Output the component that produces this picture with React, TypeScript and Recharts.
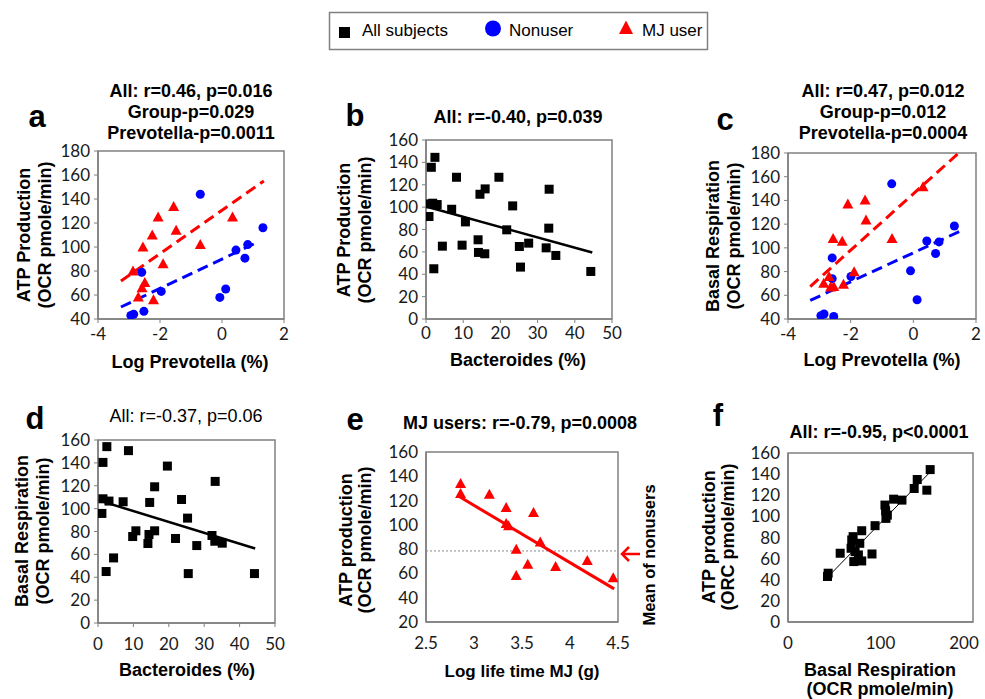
import React from 'react';
import { ScatterChart, Scatter, XAxis, YAxis, ReferenceLine, ReferenceArea } from 'recharts';

// panel a: ATP production vs log Prevotella, by group
const aNonuserX = [-0.7, 1.32, 0.45, 0.83, 0.74, 0.12, -0.07, -2.59, -1.96, -2.52, -2.85, -2.94];
const aNonuserY = [144, 116, 97.4, 102, 90.7, 65, 58, 79, 63, 46.4, 44, 43];
const aUserX = [-1.56, -2.06, 0.34, -1.48, -2.25, -2.55, -0.7, -1.9, -2.87, -2.49, -2.58, -2.7, -2.21];
const aUserY = [133.7, 125, 125, 114, 110, 100, 102, 86, 80, 70.5, 66, 58.3, 56];
const aUserFit = [[-3.26, 71.6], [1.35, 155]];
const aNonuserFit = [[-3.26, 50], [1.17, 104.3]];

// panel b: ATP production vs Bacteroides
const bX = [2.4, 1.43, 8.2, 19.6, 15.9, 33.1, 14.5, 1.07, 1.8, 3.0, 6.9, 23.3, 0.8, 10.6, 21.7, 33.0, 4.4, 9.7, 14.0, 14.1, 15.8, 25.1, 27.6, 32.3, 34.9, 2.1, 25.4, 44.3];
const bY = [144.5, 135.6, 126.7, 126.7, 116.3, 116, 111.5, 102.9, 103.5, 102.3, 98.1, 101.1, 91.6, 86.8, 79.7, 81.2, 65.1, 66, 70.8, 59.5, 58.3, 64.8, 67.8, 63.6, 56.8, 44.9, 46.4, 42.5];
const bFit = [[0, 100.5], [44.7, 59.5]];

// panel c: basal respiration vs log Prevotella, by group
const cNonuserX = [-0.69, 1.31, 0.43, 0.82, 0.71, -0.09, 0.12, -2.59, -2.59, -1.99, -2.95, -2.85, -2.54];
const cNonuserY = [154, 118.4, 105.8, 105, 95.2, 80.6, 56.2, 91.5, 74, 75.8, 42.8, 44.2, 42.2];
const cUserX = [0.31, -1.54, -2.09, -1.51, -2.56, -2.27, -0.68, -1.89, -2.69, -2.86, -2.64, -2.23, -2.54];
const cUserY = [151.5, 140.3, 137, 123.4, 107.8, 105.5, 107.8, 79.8, 75.8, 70.2, 66.9, 69.4, 67.4];
const cUserFit = [[-3.29, 67.4], [1.45, 180]];
const cNonuserFit = [[-3.29, 55.7], [1.53, 114.5]];

// panel d: basal respiration vs Bacteroides
const dX = [2.5, 8.6, 1.4, 19.6, 33.1, 16.0, 1.4, 3.1, 7.1, 23.6, 14.6, 1.1, 25.3, 10.7, 16.0, 9.8, 14.4, 14.1, 21.9, 32.2, 33.0, 35.1, 27.9, 4.4, 2.3, 25.5, 44.2];
const dY = [154.2, 150.7, 140.4, 137.2, 123.8, 119.1, 108.6, 106.6, 106, 108, 105.4, 95.8, 91.7, 80.6, 80.6, 75.6, 77.4, 69.5, 73.9, 76.5, 71.5, 69.8, 67.7, 56.9, 45, 43.2, 43.2];
const dFit = [[0, 107.4], [44.4, 65.1]];

// panel e: MJ users, ATP production vs log lifetime MJ
const eX = [2.86, 2.86, 3.16, 3.335, 3.62, 3.335, 3.36, 3.69, 3.44, 3.56, 3.85, 4.18, 3.44, 4.45];
const eY = [134, 125.8, 125.3, 114.3, 110.2, 101.2, 99.3, 85.9, 79.9, 67.6, 65.7, 70.6, 58.3, 56.4];
const eFit = [[2.85, 123.1], [4.46, 47.3]];
const eNonuserMean = 78.5;

// panel f: ATP production vs basal respiration
const fX = [153.7, 139.7, 136.4, 150.1, 114.2, 123.2, 104.8, 105.5, 107.4, 105.9, 94.1, 79.7, 70.4, 77.6, 68.2, 72.5, 56.4, 90.8, 76.1, 71.1, 79.7, 43.4, 42.7, 68.9];
const fY = [144.3, 134.9, 126.4, 124.8, 116.3, 115.4, 110.7, 105.3, 101.2, 98.1, 91.2, 86.4, 80.8, 74.5, 69.8, 66.6, 65.1, 64.4, 63.5, 57.2, 57.8, 46.2, 43.1, 77.7];
const fFit = [[43.4, 43], [153.7, 142]];

const BLUE = '#0000ff';
const RED = '#ff0000';
const AXIS = '#808080';
const ARIAL = '"Liberation Sans", Arial, sans-serif';
const CAL = 'Lato, "Open Sans", sans-serif';

const pts = (xs: number[], ys: number[]) => xs.map((x, i) => ({ x, y: ys[i] }));

const square = (p: any) => <rect x={p.cx - 4.5} y={p.cy - 4.5} width={9} height={9} fill="#000" />;
const dot = (p: any) => <circle cx={p.cx} cy={p.cy} r={4.5} fill={BLUE} />;
const tri = (p: any) => (
  <polygon points={`${p.cx},${p.cy - 5.5} ${p.cx + 5.5},${p.cy + 4.5} ${p.cx - 5.5},${p.cy + 4.5}`} fill={RED} />
);

// x tick; the last label of a panel at the page edge is nudged inward
const XTick = (props: any) => {
  const { x, y, payload, index, visibleTicksCount, edge } = props;
  const shift = edge && index === visibleTicksCount - 1 ? -9 : 0;
  return (
    <text x={x + shift} y={y} dy="0.71em" textAnchor="middle" fontSize={17} fontFamily={CAL} fill="#1a1a1a">
      {payload.value}
    </text>
  );
};

interface Fit {
  ends: number[][];
  color: string;
  width: number;
  dash?: string;
}

interface PanelProps {
  box: number[];
  xDomain: number[];
  yDomain: number[];
  xTicks: number[];
  yTicks: number[];
  marks: { data: { x: number; y: number }[]; shape: (p: any) => React.ReactElement }[];
  fits: Fit[];
  xGap: number;
  tickMarks: boolean;
  hLine?: number;
  edge?: boolean;
}

function Panel({ box, xDomain, yDomain, xTicks, yTicks, marks, fits, xGap, tickMarks, hLine, edge }: PanelProps) {
  const [x0, y0, x1, y1] = box;
  const padL = 55, padT = 10, padR = 12, padB = 34;
  const w = x1 - x0 + padL + padR;
  const h = y1 - y0 + padT + padB;
  const tick = { fontSize: 17, fill: '#1a1a1a', fontFamily: CAL };
  return (
    <div style={{ position: 'absolute', left: x0 - padL, top: y0 - padT, width: w, height: h }}>
      <ScatterChart width={w} height={h} margin={{ top: padT, right: padR, bottom: 0, left: 0 }}>
        <XAxis
          type="number"
          dataKey="x"
          domain={xDomain}
          ticks={xTicks}
          interval={0}
          allowDataOverflow
          height={padB}
          tick={<XTick edge={edge} />}
          tickLine={tickMarks ? { stroke: AXIS } : false}
          tickSize={tickMarks ? 4 : 0}
          tickMargin={tickMarks ? xGap - 4 : xGap}
          axisLine={{ stroke: AXIS, strokeWidth: 1.5 }}
        />
        <YAxis
          type="number"
          dataKey="y"
          domain={yDomain}
          ticks={yTicks}
          interval={0}
          allowDataOverflow
          width={padL}
          tick={tick}
          tickLine={tickMarks ? { stroke: AXIS } : false}
          tickSize={tickMarks ? 4 : 0}
          tickMargin={tickMarks ? 4 : 8}
          axisLine={{ stroke: AXIS, strokeWidth: 1.5 }}
        />
        <ReferenceArea
          x1={xDomain[0]}
          x2={xDomain[1]}
          y1={yDomain[0]}
          y2={yDomain[1]}
          fill="none"
          stroke={AXIS}
          strokeWidth={1.5}
        />
        {hLine !== undefined && (
          <ReferenceLine y={hLine} stroke="#888" strokeWidth={1} strokeDasharray="2 2" />
        )}
        {marks.map((m, i) => (
          <Scatter key={i} data={m.data} shape={m.shape} isAnimationActive={false} />
        ))}
        {fits.map((f, i) => (
          <ReferenceLine
            key={'f' + i}
            segment={[{ x: f.ends[0][0], y: f.ends[0][1] }, { x: f.ends[1][0], y: f.ends[1][1] }]}
            stroke={f.color}
            strokeWidth={f.width}
            strokeDasharray={f.dash}
            ifOverflow="visible"
          />
        ))}
      </ScatterChart>
    </div>
  );
}

interface TxtProps {
  x: number;
  y: number;
  size: number;
  lines: string[];
  bold?: boolean;
  rotate?: boolean;
  lh?: number;
  family?: string;
}

const Txt = ({ x, y, size, lines, bold = true, rotate = false, lh, family = ARIAL }: TxtProps) => (
  <div
    style={{
      position: 'absolute',
      left: x,
      top: y,
      transform: `translate(-50%, -50%)${rotate ? ' rotate(-90deg)' : ''}`,
      whiteSpace: 'nowrap',
      textAlign: 'center',
      fontFamily: family,
      fontSize: size,
      fontWeight: bold ? 700 : 400,
      lineHeight: lh ? `${lh}px` : 1.15,
      color: '#000',
    }}
  >
    {lines.map((l, i) => (
      <div key={i}>{l}</div>
    ))}
  </div>
);

const prevTicks = [-4, -2, 0, 2];
const bactTicks = [0, 10, 20, 30, 40, 50];
const y40 = [40, 60, 80, 100, 120, 140, 160, 180];
const y0 = [0, 20, 40, 60, 80, 100, 120, 140, 160];
const y20 = [20, 40, 60, 80, 100, 120, 140, 160];
const mjTicks = [2.5, 3, 3.5, 4, 4.5];
const brTicks = [0, 100, 200];

export default function App() {
  return (
    <div style={{ position: 'absolute', left: 0, top: 0, width: 985, height: 699, background: '#fff', overflow: 'hidden' }}>
      <Panel
        box={[98, 151, 284, 319]}
        xDomain={[-4, 2]}
        yDomain={[40, 180]}
        xTicks={prevTicks}
        yTicks={y40}
        marks={[
          { data: pts(aNonuserX, aNonuserY), shape: dot },
          { data: pts(aUserX, aUserY), shape: tri },
        ]}
        fits={[
          { ends: aUserFit, color: RED, width: 3, dash: '11 6' },
          { ends: aNonuserFit, color: BLUE, width: 3, dash: '11 6' },
        ]}
        xGap={9}
        tickMarks
      />
      <Panel
        box={[426, 140, 612, 319]}
        xDomain={[0, 50]}
        yDomain={[0, 160]}
        xTicks={bactTicks}
        yTicks={y0}
        marks={[{ data: pts(bX, bY), shape: square }]}
        fits={[{ ends: bFit, color: '#000', width: 2.5 }]}
        xGap={8}
        tickMarks
      />
      <Panel
        box={[788, 153, 976, 319]}
        xDomain={[-4, 2]}
        yDomain={[40, 180]}
        xTicks={prevTicks}
        yTicks={y40}
        marks={[
          { data: pts(cNonuserX, cNonuserY), shape: dot },
          { data: pts(cUserX, cUserY), shape: tri },
        ]}
        fits={[
          { ends: cUserFit, color: RED, width: 3, dash: '11 6' },
          { ends: cNonuserFit, color: BLUE, width: 3, dash: '11 6' },
        ]}
        xGap={9}
        tickMarks
      />
      <Panel
        box={[98, 440, 275, 623]}
        xDomain={[0, 50]}
        yDomain={[0, 160]}
        xTicks={bactTicks}
        yTicks={y0}
        marks={[{ data: pts(dX, dY), shape: square }]}
        fits={[{ ends: dFit, color: '#000', width: 2.5 }]}
        xGap={15}
        tickMarks
      />
      <Panel
        box={[426, 452, 618, 622]}
        xDomain={[2.5, 4.5]}
        yDomain={[20, 160]}
        xTicks={mjTicks}
        yTicks={y20}
        marks={[{ data: pts(eX, eY), shape: tri }]}
        fits={[{ ends: eFit, color: RED, width: 3 }]}
        xGap={15}
        tickMarks={false}
        hLine={eNonuserMean}
      />
      <Panel
        box={[788, 453, 973, 622]}
        xDomain={[0, 200]}
        yDomain={[0, 160]}
        xTicks={brTicks}
        yTicks={y0}
        marks={[{ data: pts(fX, fY), shape: square }]}
        fits={[{ ends: fFit, color: '#000', width: 1 }]}
        xGap={15}
        tickMarks={false}
        edge
      />

      {/* panel letters */}
      <Txt x={37} y={117} size={31} lines={['a']} />
      <Txt x={355} y={116} size={31} lines={['b']} />
      <Txt x={725} y={120} size={31} lines={['c']} />
      <Txt x={35} y={419} size={31} lines={['d']} />
      <Txt x={355} y={420} size={31} lines={['e']} />
      <Txt x={718} y={416} size={31} lines={['f']} />

      {/* titles */}
      <Txt x={191} y={112} size={18} lh={21} lines={['All: r=0.46, p=0.016', 'Group-p=0.029', 'Prevotella-p=0.0011']} />
      <Txt x={518} y={117} size={18} lines={['All: r=-0.40, p=0.039']} />
      <Txt x={883} y={112} size={18} lh={21} lines={['All: r=0.47, p=0.012', 'Group-p=0.012', 'Prevotella-p=0.0004']} />
      <Txt x={186} y={416} size={18} bold={false} lines={['All: r=-0.37, p=0.06']} />
      <Txt x={520} y={423} size={18} lines={['MJ users: r=-0.79, p=0.0008']} />
      <Txt x={879} y={432} size={18} lines={['All: r=-0.95, p<0.0001']} />

      {/* y axis labels */}
      <Txt x={34.5} y={235} size={18} lh={21} rotate lines={['ATP Production', '(OCR pmole/min)']} />
      <Txt x={354.5} y={230} size={18} lh={21} rotate lines={['ATP Production', '(OCR pmole/min)']} />
      <Txt x={724} y={236} size={18} lh={21} rotate lines={['Basal Respiration', '(OCR pmole/min)']} />
      <Txt x={33} y={531} size={18} lh={21} rotate lines={['Basal Respiration', '(OCR pmole/min)']} />
      <Txt x={356} y={540} size={18} lh={19} rotate lines={['ATP production', '(OCR pmole/min)']} />
      <Txt x={719} y={537} size={18} lh={19} rotate lines={['ATP production', '(ORC pmole/min)']} />

      {/* x axis labels */}
      <Txt x={190} y={362} size={18} lines={['Log Prevotella (%)']} />
      <Txt x={518} y={360} size={18} lines={['Bacteroides (%)']} />
      <Txt x={882} y={360} size={18} lines={['Log Prevotella (%)']} />
      <Txt x={187} y={670} size={18} lines={['Bacteroides (%)']} />
      <Txt x={522} y={672} size={17} lines={['Log life time MJ (g)']} />
      <Txt x={880} y={680} size={18} lh={19} lines={['Basal Respiration', '(OCR pmole/min)']} />

      <Txt x={649} y={555} size={16.5} rotate lines={['Mean of nonusers']} />

      <svg width={985} height={699} style={{ position: 'absolute', left: 0, top: 0, pointerEvents: 'none' }}>
        {/* arrow to the nonuser mean */}
        <line x1={622} y1={554} x2={640} y2={554} stroke={RED} strokeWidth={2.5} />
        <polyline points="629,547 622,554 629,561" fill="none" stroke={RED} strokeWidth={2.5} />

        {/* legend */}
        <rect x={329.5} y={12.5} width={378} height={37} fill="#fff" stroke={AXIS} strokeWidth={1.5} />
        <rect x={339} y={27} width={11} height={11} fill="#000" />
        <text x={362} y={36} fontFamily={ARIAL} fontSize={17} fill="#000">All subjects</text>
        <circle cx={493} cy={28.5} r={8} fill={BLUE} />
        <text x={509} y={36} fontFamily={ARIAL} fontSize={17} fill="#000">Nonuser</text>
        <polygon points="626,20.5 633,34 619,34" fill={RED} />
        <text x={642} y={36} fontFamily={ARIAL} fontSize={17} fill="#000">MJ user</text>
      </svg>
    </div>
  );
}
